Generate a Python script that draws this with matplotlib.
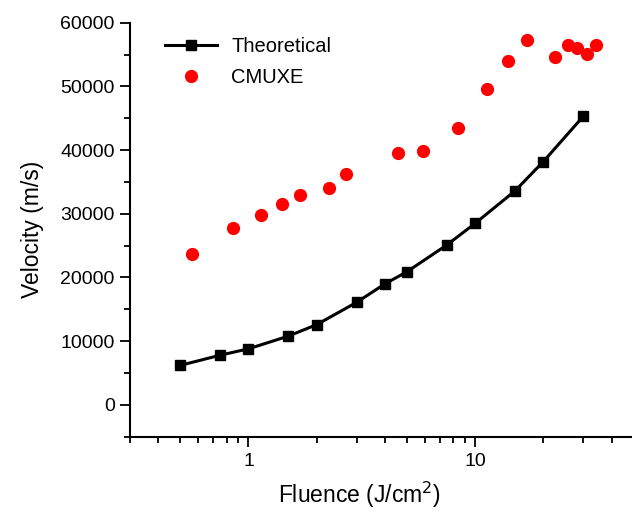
import matplotlib
matplotlib.use("Agg")
import matplotlib.pyplot as plt
from matplotlib.ticker import LogLocator, MultipleLocator, FixedLocator, NullFormatter

plt.rcParams['font.family'] = ['Liberation Sans', 'DejaVu Sans']

# theoretical curve
theo_fluence = [0.5, 0.75, 1, 1.5, 2, 3, 4, 5, 7.5, 10, 15, 20, 30]
theo_velocity = [6200, 7800, 8800, 10800, 12600, 16100, 19000, 20900, 25100, 28500, 33600, 38200, 45300]

# CMUXE measurements
exp_fluence = [0.566, 0.85, 1.13, 1.41, 1.69, 2.26, 2.70, 4.59, 5.86, 8.44, 11.3, 13.9, 17.0,
               22.5, 25.8, 28.1, 31.1, 34.1]
exp_velocity = [23700, 27800, 29800, 31500, 33000, 34000, 36200, 39600, 39900, 43400, 49600,
                54000, 57300, 54700, 56500, 56100, 55100, 56500]

fig = plt.figure(figsize=(6.32, 5.17), dpi=100)
ax = fig.add_axes([0.2057, 0.1553, 0.7967, 0.8007])

ax.plot(theo_fluence, theo_velocity, color='black', lw=2.2, marker='s', ms=7,
        label='Theoretical')
ax.plot(exp_fluence, exp_velocity, ls='none', color='red', marker='o', ms=8.5,
        markeredgecolor='red', label='CMUXE')

ax.set_xscale('log')
ax.set_xlim(0.3, 50)
ax.set_ylim(-5000, 60000)

ax.xaxis.set_major_locator(FixedLocator([1, 10]))
ax.xaxis.set_major_formatter(matplotlib.ticker.FixedFormatter(['1', '10']))
ax.xaxis.set_minor_locator(LogLocator(base=10, subs=range(2, 10)))
ax.xaxis.set_minor_formatter(NullFormatter())
ax.yaxis.set_major_locator(MultipleLocator(10000))
ax.yaxis.set_minor_locator(MultipleLocator(5000))

for s in ['top', 'right']:
    ax.spines[s].set_visible(False)
for s in ['left', 'bottom']:
    ax.spines[s].set_linewidth(1.5)
ax.spines['left'].set_bounds(-5000, 60000)

ax.tick_params(which='major', direction='out', length=7, width=1.3, labelsize=14, colors='black')
ax.tick_params(which='minor', direction='out', length=4, width=1.3)
ax.tick_params(axis='x', which='major', pad=5)
ax.tick_params(axis='y', which='major', pad=4)

ax.set_xlabel('Fluence (J/cm$^2$)', fontsize=16.5, labelpad=7)
ax.set_ylabel('Velocity (m/s)', fontsize=16.5, labelpad=12)
ax.xaxis.set_label_coords(0.455, -0.105)

ax.legend(loc='upper left', bbox_to_anchor=(0.045, 0.995), frameon=False, fontsize=14.5,
          handlelength=2.6, borderaxespad=0.2, labelspacing=0.6, handletextpad=0.7)

fig.savefig('out.png', dpi=100)
